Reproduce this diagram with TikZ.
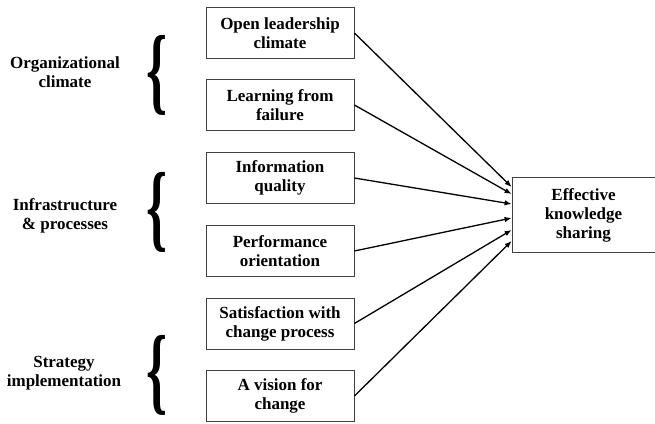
\documentclass[tikz,border=0pt]{standalone}
\usepackage{fontspec}
\setmainfont{Liberation Serif}
\usepackage{graphicx}
\usetikzlibrary{calc,arrows.meta}
\tikzset{
	factorbox/.style={draw=black!75, line width=0.8pt, minimum width=148pt, minimum height=51pt, inner sep=0pt, align=center, font=\fontsize{17}{19}\selectfont\bfseries},
	outcomebox/.style={factorbox, minimum width=143pt, minimum height=75pt},
	grouplabel/.style={align=center, font=\fontsize{17}{19}\selectfont\bfseries},
	bracenode/.style={inner sep=0pt},
	link/.style={line width=1.3pt, -{Latex[length=7pt,width=5.5pt]}}
}
\newcommand{\bigbrace}{\resizebox*{21pt}{80pt}{\bfseries\{}}

\begin{document}
\begin{tikzpicture}[x=1pt,y=-1pt]
			%%%%% START %%%%%
			
			\useasboundingbox (0,0) rectangle (655,423);
			
			\node[factorbox] (open) at (280, 33) {Open leadership\\climate};
			\node[factorbox] (learn) at (280, 105) {Learning from\\failure};
			\node[factorbox] (info) at (280, 178) {Information\\quality};
			\node[factorbox] (perf) at (280, 251) {Performance\\orientation};
			\node[factorbox] (satis) at (280, 323.5) {Satisfaction with\\change process};
			\node[factorbox] (vision) at (280, 396) {A vision for\\change};
			
			\node[outcomebox] (share) at (583.5, 215) {Effective\\knowledge\\sharing};
			
			\node[grouplabel] (orgclim) at (65, 72) {Organizational\\climate};
			\node[bracenode] (orgbrace) at (157, 75) {\bigbrace};
			
			\node[grouplabel] (infra) at (65, 216) {Infrastructure\\\& processes};
			\node[bracenode] (infrabrace) at (157, 212.5) {\bigbrace};
			
			\node[grouplabel] (strat) at (64, 373) {Strategy\\implementation};
			\node[bracenode] (stratbrace) at (157, 375) {\bigbrace};
			
			\draw[link] (open.east) -- ($(share.west)+(0,-28)$);
			\draw[link] (learn.east) -- ($(share.west)+(0,-21)$);
			\draw[link] (info.east) -- ($(share.west)+(0,-11)$);
			\draw[link] (perf.east) -- ($(share.west)+(0,3)$);
			\draw[link] (satis.east) -- ($(share.west)+(0,15)$);
			\draw[link] (vision.east) -- ($(share.west)+(0,26)$);
			
			%%%%% END %%%%%
		\end{tikzpicture}
\end{document}
